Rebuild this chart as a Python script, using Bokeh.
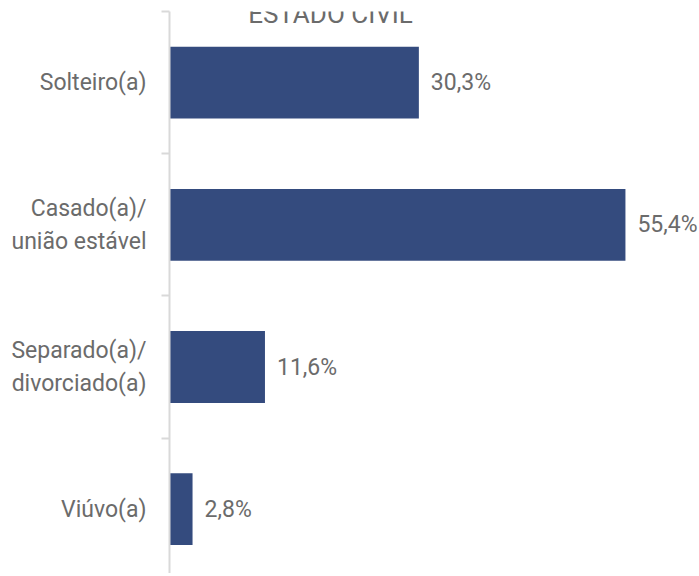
from bokeh.plotting import figure
from bokeh.models import Range1d, FixedTicker, Label, ColumnDataSource
from bokeh.core.properties import value
from bokeh.embed import file_html
from bokeh.resources import INLINE

title_text = "ESTADO CIVIL"
categories = ["Solteiro(a)", "Casado(a)/\nunião estável", "Separado(a)/\ndivorciado(a)", "Viúvo(a)"]
values = [30.3, 55.4, 11.6, 2.8]
value_labels = ["30,3%", "55,4%", "11,6%", "2,8%"]

FONT = "Roboto"
TEXT_COLOR = "#6b6b6b"
BAR_COLOR = "#344b7e"

ypos = [i + 0.5 for i in range(len(categories))]
src = ColumnDataSource(dict(y=ypos, v=values, lab=value_labels))

H = 600
W = 699
LEFT = 169
p = figure(width=W, height=H, output_backend="svg", toolbar_location=None,
           x_range=Range1d(0, (W - LEFT) / 8.23), y_range=Range1d((H - 27 - 11) / 142.2, 0),
           min_border_left=LEFT, min_border_right=0, min_border_top=38, min_border_bottom=0)
p.margin = (-27, 0, 0, 0)
p.outline_line_color = None
p.grid.visible = False
p.xaxis.visible = False
p.background_fill_color = "white"
p.border_fill_color = "white"

p.hbar(y="y", right="v", left=0, height=0.505, source=src, color=BAR_COLOR, line_color=None)
p.text(x="v", y="y", text="lab", source=src, x_offset=12, text_align="left",
       text_baseline="middle", text_font=value(FONT), text_font_size="23px",
       text_color=TEXT_COLOR)

yax = p.yaxis[0]
yax.ticker = FixedTicker(ticks=ypos, minor_ticks=list(range(len(categories) + 1)))
yax.major_label_overrides = {y: c for y, c in zip(ypos, categories)}
yax.major_tick_out = 0
yax.major_tick_in = 0
yax.minor_tick_out = 8
yax.minor_tick_in = 0
yax.minor_tick_line_color = "#d9d9d9"
yax.minor_tick_line_width = 2
yax.axis_line_color = "#d9d9d9"
yax.axis_line_width = 2
yax.major_label_standoff = 15
yax.major_label_text_font = FONT
yax.major_label_text_font_size = "23px"
yax.major_label_text_color = TEXT_COLOR
yax.major_label_text_align = "right"

p.add_layout(Label(x=330 - LEFT, y=H - 40, x_units="screen", y_units="screen", text=title_text,
                   text_align="center", text_baseline="alphabetic", text_font=FONT,
                   text_font_size="26px", text_color=TEXT_COLOR))

open("out.html", "w").write(file_html(p, INLINE))
